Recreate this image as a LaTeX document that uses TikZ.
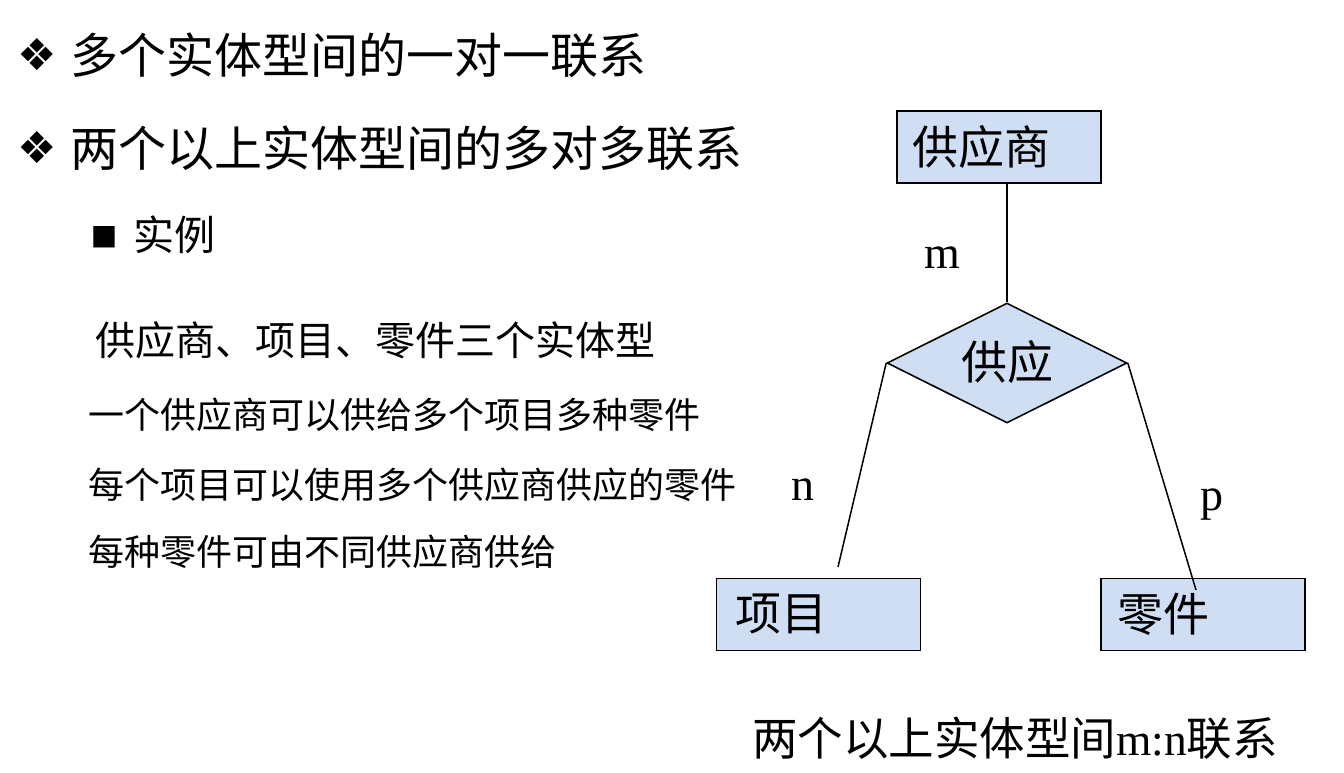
\documentclass[tikz,border=0pt]{standalone}
\usepackage{fontspec}
\setmainfont{Liberation Serif}
\newfontfamily\cjk{Noto Sans CJK SC}
\newfontfamily\symf{DejaVu Sans}
\usetikzlibrary{shapes.geometric}
\definecolor{boxfill}{RGB}{207,222,242}
\tikzset{
  entity/.style={draw=black, line width=1.6pt, fill=boxfill, minimum width=204pt, minimum height=72pt, inner sep=0pt},
  etext/.style={anchor=west, inner sep=0pt, font=\cjk\fontsize{46}{46}\selectfont},
  rel/.style={diamond, draw=black, line width=1.6pt, fill=boxfill, minimum width=240pt, minimum height=120pt, inner sep=0pt},
  conn/.style={line width=1.5pt},
  card/.style={inner sep=0pt, font=\fontsize{46}{46}\selectfont},
  head/.style={anchor=west, inner sep=0pt, font=\cjk\fontsize{48}{48}\selectfont},
  sub/.style={anchor=west, inner sep=0pt, font=\cjk\fontsize{41}{41}\selectfont},
  body/.style={anchor=west, inner sep=0pt, font=\cjk\fontsize{36}{36}\selectfont},
  bul/.style={inner sep=0pt, font=\symf\fontsize{44}{44}\selectfont}
}
\begin{document}
\begin{tikzpicture}[x=1pt,y=-1pt]
\useasboundingbox (0,0) rectangle (1344,773);
% left text
\node[bul] (b1) at (37,55) {❖};
\node[head] (h1) at (70,55) {多个实体型间的一对一联系};
\node[bul] (b2) at (37,148) {❖};
\node[head] (h2) at (70,148) {两个以上实体型间的多对多联系};
\node[bul, font=\symf\fontsize{28}{28}\selectfont] (b3) at (104,237) {■};
\node[sub] (s1) at (133,235) {实例};
\node[body, font=\cjk\fontsize{40}{40}\selectfont] (t1) at (95,340) {供应商、项目、零件三个实体型};
\node[body] (t2) at (88,415) {一个供应商可以供给多个项目多种零件};
\node[body] (t3) at (88,485) {每个项目可以使用多个供应商供应的零件};
\node[body] (t4) at (88,552) {每种零件可由不同供应商供给};
% diagram
\node[entity] (gys) at (999,147) {};
\node[etext] at (912,147) {供应商};
\node[entity] (xm) at (818.5,614.5) {};
\node[etext] at (735,614.5) {项目};
\node[entity] (lj) at (1203,614.5) {};
\node[etext] at (1117,614.5) {零件};
\node[rel] (gy) at (1007,363) {};
\node[inner sep=0pt, font=\cjk\fontsize{46}{46}\selectfont] (gyt) at (1007,362) {供应};
\coordinate (xmend) at (838,567);
\coordinate (ljend) at (1196,590);
\draw[conn] (gys.south -| gy.north) -- (gy.north);
\draw[conn] (gy.west) -- (xmend);
\draw[conn] (gy.east) -- (ljend);
\node[card] (m) at (942,258) {m};
\node[card] (n) at (803,490) {n};
\node[card] (p) at (1212,505) {p};
\node[inner sep=0pt, font=\fontsize{45.5}{45.5}\selectfont] (cap) at (1015,738) {{\cjk 两个以上实体型间}m:n{\cjk 联系}};
\end{tikzpicture}
\end{document}
